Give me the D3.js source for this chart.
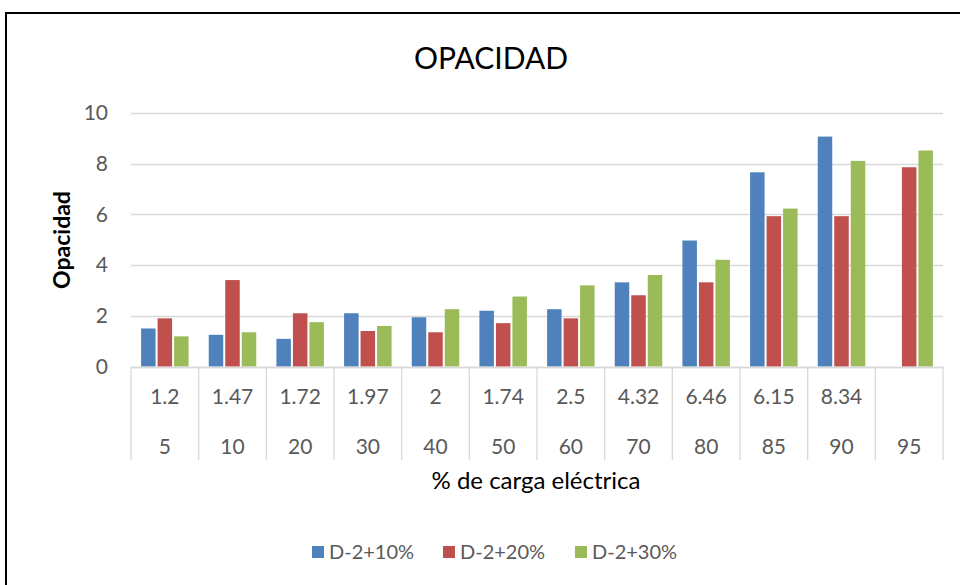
<!DOCTYPE html>
<html>
<head>
<meta charset="utf-8">
<script src="https://cdn.jsdelivr.net/npm/d3@7"></script>
<style>
  body { margin: 0; background: #fff; }
  svg text { font-family: Lato, "Open Sans", sans-serif; }
</style>
</head>
<body>
<div id="chart"></div>
<script>
// chart data
const cargas = ['5', '10', '20', '30', '40', '50', '60', '70', '80', '85', '90', '95'];
const subLabels = ['1.2', '1.47', '1.72', '1.97', '2', '1.74', '2.5', '4.32', '6.46', '6.15', '8.34', ''];
const seriesNames = ['D-2+10%', 'D-2+20%', 'D-2+30%'];
const d2mas10 = [1.5, 1.25, 1.09, 2.1, 1.94, 2.2, 2.26, 3.32, 4.97, 7.66, 9.07, null];
const d2mas20 = [1.9, 3.41, 2.1, 1.4, 1.35, 1.71, 1.9, 2.81, 3.32, 5.93, 5.93, 7.86];
const d2mas30 = [1.19, 1.35, 1.75, 1.6, 2.26, 2.76, 3.2, 3.61, 4.21, 6.23, 8.11, 8.52];
const yTicks = [0, 2, 4, 6, 8, 10];
const colors = ['#4F81BD', '#C0504D', '#9BBB59'];

const allSeries = [d2mas10, d2mas20, d2mas30];

const width = 960, height = 585;
const margin = { top: 113, left: 131, right: 17, bottom: 219 };

const svg = d3.select('#chart')
  .append('svg')
  .attr('width', width)
  .attr('height', height);

// outer border
svg.append('rect')
  .attr('x', 6).attr('y', 13)
  .attr('width', width + 10).attr('height', height + 10)
  .attr('fill', '#fff')
  .attr('stroke', '#000')
  .attr('stroke-width', 2);

const x = d3.scaleBand()
  .domain(cargas)
  .range([margin.left, width - margin.right])
  .paddingInner(0)
  .paddingOuter(0);

const y = d3.scaleLinear()
  .domain([0, 10])
  .range([height - margin.bottom + 0.5, margin.top]);

// gridlines
svg.append('g')
  .selectAll('line')
  .data(yTicks)
  .enter()
  .append('line')
  .attr('x1', margin.left)
  .attr('x2', width - margin.right)
  .attr('y1', d => Math.round(y(d)) + 0.5)
  .attr('y2', d => Math.round(y(d)) + 0.5)
  .attr('stroke', '#D9D9D9')
  .attr('stroke-width', 1.3);

// y tick labels
svg.append('g')
  .selectAll('text')
  .data(yTicks)
  .enter()
  .append('text')
  .attr('x', 108)
  .attr('y', d => y(d))
  .attr('dy', '0.35em')
  .attr('text-anchor', 'end')
  .attr('font-size', '21px')
  .attr('fill', '#595959')
  .text(d => d);

// bars
const inner = d3.scaleBand()
  .domain(d3.range(seriesNames.length))
  .range([0, x.bandwidth()])
  .paddingOuter(0.55)
  .paddingInner(0);

const groups = svg.append('g')
  .selectAll('g')
  .data(allSeries)
  .enter()
  .append('g')
  .attr('fill', (d, i) => colors[i]);

groups.each(function(values, si) {
  d3.select(this).selectAll('rect')
    .data(values.map((v, i) => ({ v: v, cat: cargas[i] })).filter(d => d.v != null))
    .enter()
    .append('rect')
    .attr('x', d => x(d.cat) + inner(si) + 1)
    .attr('width', inner.bandwidth() - 2)
    .attr('y', d => y(d.v))
    .attr('height', d => y(0) - y(d.v));
});

// category axis (two levels)
const axisTop = y(0);
const axisBottom = 460;
svg.append('line')
  .attr('x1', margin.left).attr('x2', width - margin.right)
  .attr('y1', Math.round(axisTop) + 0.5).attr('y2', Math.round(axisTop) + 0.5)
  .attr('stroke', '#D9D9D9')
  .attr('stroke-width', 1.3);

svg.append('g')
  .selectAll('line')
  .data(cargas.concat(['end']))
  .enter()
  .append('line')
  .attr('x1', d => d === 'end' ? x.range()[1] : x(d))
  .attr('x2', d => d === 'end' ? x.range()[1] : x(d))
  .attr('y1', axisTop)
  .attr('y2', axisBottom)
  .attr('stroke', '#D9D9D9')
  .attr('stroke-width', 1.3);

svg.append('g')
  .selectAll('text')
  .data(subLabels)
  .enter()
  .append('text')
  .attr('x', (d, i) => x(cargas[i]) + x.bandwidth() / 2)
  .attr('y', 397)
  .attr('dy', '0.35em')
  .attr('text-anchor', 'middle')
  .attr('font-size', '21px')
  .attr('fill', '#595959')
  .text(d => d);

svg.append('g')
  .selectAll('text')
  .data(cargas)
  .enter()
  .append('text')
  .attr('x', d => x(d) + x.bandwidth() / 2)
  .attr('y', 447)
  .attr('dy', '0.35em')
  .attr('text-anchor', 'middle')
  .attr('font-size', '21px')
  .attr('fill', '#595959')
  .text(d => d);

// titles
svg.append('text')
  .attr('x', 491)
  .attr('y', 58)
  .attr('dy', '0.35em')
  .attr('text-anchor', 'middle')
  .attr('font-size', '30px')
  .attr('fill', '#000')
  .text('OPACIDAD');

svg.append('text')
  .attr('transform', 'translate(62,240) rotate(-90)')
  .attr('dy', '0.35em')
  .attr('text-anchor', 'middle')
  .attr('font-size', '23px')
  .attr('font-weight', 'bold')
  .attr('fill', '#000')
  .text('Opacidad');

svg.append('text')
  .attr('x', 536)
  .attr('y', 481)
  .attr('dy', '0.35em')
  .attr('text-anchor', 'middle')
  .attr('font-size', '24px')
  .attr('fill', '#000')
  .text('% de carga eléctrica');

// legend
const legendX = [312, 443, 575];
const legend = svg.append('g')
  .selectAll('g')
  .data(seriesNames)
  .enter()
  .append('g')
  .attr('transform', (d, i) => `translate(${legendX[i]},552)`);

legend.append('rect')
  .attr('x', 0).attr('y', -6)
  .attr('width', 12).attr('height', 12)
  .attr('fill', (d, i) => colors[i]);

legend.append('text')
  .attr('x', 17)
  .attr('dy', '0.35em')
  .attr('font-size', '20px')
  .attr('fill', '#595959')
  .text(d => d);
</script>
</body>
</html>
